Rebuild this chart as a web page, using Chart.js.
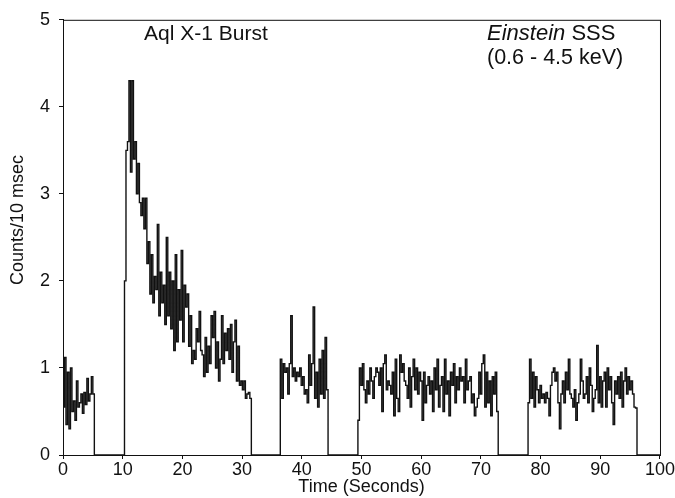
<!DOCTYPE html>
<html lang="en">
<head>
  <meta charset="UTF-8" />
  <title>Aql X-1 Burst</title>
  <script src="https://cdn.jsdelivr.net/npm/chart.js"></script>
  <style>
    body { margin: 0; background: #fff; }
    #wrap { width: 675px; height: 498px; }
  </style>
</head>
<body>
  <div id="wrap"><canvas id="burst" width="675" height="498"></canvas></div>

  <script>
    // bins are 0.25 s wide, each segment starts at the time in segStarts
    const binWidth = 0.25;
    const segStarts = [0, 10.3, 36.4, 49.4, 77.9];

    const seg1 = [0.55, 1.12, 0.35, 0.95, 0.3, 1.0, 0.5, 0.62, 0.4, 0.85,
                  0.55, 0.6, 0.7, 0.48, 0.72, 0.58, 0.88, 0.62, 0.7, 0.9, 0.7];
    const seg2 = [2.0, 3.5, 3.6, 4.3, 3.25, 4.3, 3.4, 3.6, 3.0, 3.35,
                  2.9, 2.75, 2.95, 2.6, 2.95, 2.2, 2.45, 1.85, 2.3, 1.75,
                  2.05, 1.9, 2.65, 1.6, 2.1, 1.75, 1.95, 1.5, 2.5, 1.6,
                  2.1, 1.45, 2.0, 1.2, 2.3, 1.3, 1.9, 1.55, 2.35, 1.3,
                  1.95, 1.7, 1.85, 1.25, 1.6, 1.05, 1.2, 1.1, 1.45, 1.3,
                  1.65, 1.2, 1.15, 0.9, 1.35, 0.95, 1.25, 1.05, 1.6, 1.35,
                  1.65, 1.0, 1.3, 0.85, 1.1, 1.6, 1.05, 1.4, 1.2, 1.45,
                  1.1, 1.5, 0.95, 1.3, 1.55, 0.85, 1.25, 0.8, 0.85, 0.75,
                  0.85, 0.65, 0.7, 0.72, 0.65];
    const seg3 = [1.1, 0.65, 1.05, 0.95, 1.0, 0.7, 1.05, 1.6, 0.9, 1.0,
                  0.85, 0.95, 0.9, 1.0, 0.8, 0.9, 0.7, 0.75, 0.6, 1.15,
                  0.8, 1.05, 1.7, 0.65, 0.95, 0.55, 1.1, 0.7, 1.2, 0.65,
                  1.35, 0.75];
    const seg4 = [0.4, 1.0, 0.8, 1.05, 0.75, 0.6, 0.85, 0.7, 1.0, 0.85,
                  0.65, 0.9, 1.0, 0.95, 0.8, 1.0, 0.5, 1.05, 1.15, 0.75,
                  0.85, 0.8, 0.7, 0.95, 0.45, 1.1, 0.65, 0.5, 1.15, 0.95,
                  1.05, 0.85, 0.8, 0.65, 1.0, 0.55, 0.9, 1.1, 0.75, 1.0,
                  0.7, 0.95, 0.85, 0.4, 0.95, 0.6, 0.8, 0.9, 0.7, 0.85,
                  0.5, 1.0, 0.75, 1.1, 0.55, 0.8, 0.9, 0.5, 1.1, 0.7,
                  0.85, 0.45, 0.95, 0.8, 1.05, 0.6, 0.9, 0.75, 1.0, 0.85,
                  0.9, 0.6, 1.1, 0.75, 0.85, 0.9, 0.6, 0.7, 0.45, 0.55,
                  0.65, 0.95, 0.7, 1.05, 1.15, 0.55, 0.95, 0.6, 0.85, 0.45,
                  0.9, 0.7, 0.95, 0.5];
    const seg5 = [0.6, 1.1, 0.65, 0.95, 0.55, 0.9, 0.75, 0.6, 0.8, 0.65,
                  0.7, 0.6, 0.72, 0.65, 0.45, 0.8, 0.95, 1.0, 0.85, 0.95,
                  0.6, 0.3, 0.7, 0.85, 0.6, 0.95, 0.75, 1.1, 0.7, 0.65,
                  0.55, 0.75, 0.4, 0.6, 0.7, 1.1, 0.85, 0.65, 0.7, 0.9,
                  0.6, 1.0, 0.8, 0.5, 0.65, 0.75, 1.26, 0.6, 0.9, 0.55,
                  0.85, 0.95, 0.55, 1.0, 0.75, 0.9, 0.6, 0.35, 0.85, 0.7,
                  0.9, 0.65, 0.95, 0.55, 0.85, 1.0, 0.7, 0.9, 0.75, 0.85,
                  0.7, 0.55, 0.54];
    const segments = [seg1, seg2, seg3, seg4, seg5];

    const yTicks = [0, 1, 2, 3, 4, 5];
    const xTicks = [0, 10, 20, 30, 40, 50, 60, 70, 80, 90, 100];

    // step histogram points: bin left edges, then drop to zero between segments
    const points = [];
    segments.forEach((vals, i) => {
      const t0 = segStarts[i];
      vals.forEach((v, j) => points.push({ x: t0 + j * binWidth, y: v }));
      points.push({ x: t0 + vals.length * binWidth, y: 0 });
    });
    points.push({ x: 100, y: 0 });

    const FONT = '"Liberation Sans", Arial, sans-serif';
    const INK = '#111';

    const frameAndLabels = {
      id: 'frameAndLabels',
      afterDraw(chart) {
        const { ctx, chartArea: a } = chart;
        ctx.save();
        ctx.strokeStyle = INK;
        ctx.lineWidth = 1;
        ctx.strokeRect(a.left + 0.5, a.top + 0.5, a.right - a.left, a.bottom - a.top);

        ctx.fillStyle = INK;
        ctx.textBaseline = 'middle';
        ctx.textAlign = 'left';
        ctx.font = '21px ' + FONT;
        ctx.fillText('Aql X-1 Burst', 144, 34);

        ctx.font = 'italic 22px ' + FONT;
        ctx.fillText('Einstein', 487, 34);
        const w = ctx.measureText('Einstein ').width;
        ctx.font = '22px ' + FONT;
        ctx.fillText('SSS', 487 + w, 34);
        ctx.font = '21.5px ' + FONT;
        ctx.fillText('(0.6 - 4.5 keV)', 487, 58);

        // y axis title, drawn by hand to sit a bit above the axis centre like the original
        ctx.save();
        ctx.translate(18, 220);
        ctx.rotate(-Math.PI / 2);
        ctx.textAlign = 'center';
        ctx.font = '18px ' + FONT;
        ctx.fillText('Counts/10 msec', 0, 0);
        ctx.restore();
        ctx.restore();
      }
    };

    new Chart(document.getElementById('burst'), {
      type: 'line',
      data: {
        datasets: [{
          data: points,
          stepped: true,
          borderColor: INK,
          borderWidth: 1.4,
          pointRadius: 0,
          fill: false
        }]
      },
      options: {
        responsive: false,
        animation: false,
        layout: { padding: { top: 10, right: 15, left: 0, bottom: 0 } },
        plugins: { legend: { display: false }, tooltip: { enabled: false } },
        scales: {
          x: {
            type: 'linear',
            min: 0, max: 100,
            afterBuildTicks: s => { s.ticks = xTicks.map(v => ({ value: v })); },
            afterFit: s => { s.height = 43; },
            border: { color: INK, width: 1 },
            grid: { drawOnChartArea: false, drawTicks: true, tickLength: 4, color: INK },
            ticks: { color: INK, padding: 0, maxRotation: 0, font: { family: FONT, size: 18 } },
            title: { display: true, text: 'Time (Seconds)', color: INK, padding: { top: 0, bottom: 0 },
                     font: { family: FONT, size: 18 } }
          },
          y: {
            min: 0, max: 5,
            afterBuildTicks: s => { s.ticks = yTicks.map(v => ({ value: v })); },
            afterFit: s => { s.width = 63; },
            border: { color: INK, width: 1 },
            grid: { drawOnChartArea: false, drawTicks: true, tickLength: 4, color: INK },
            ticks: { color: INK, padding: 9, font: { family: FONT, size: 18 } }
          }
        }
      },
      plugins: [frameAndLabels]
    });
  </script>
</body>
</html>
